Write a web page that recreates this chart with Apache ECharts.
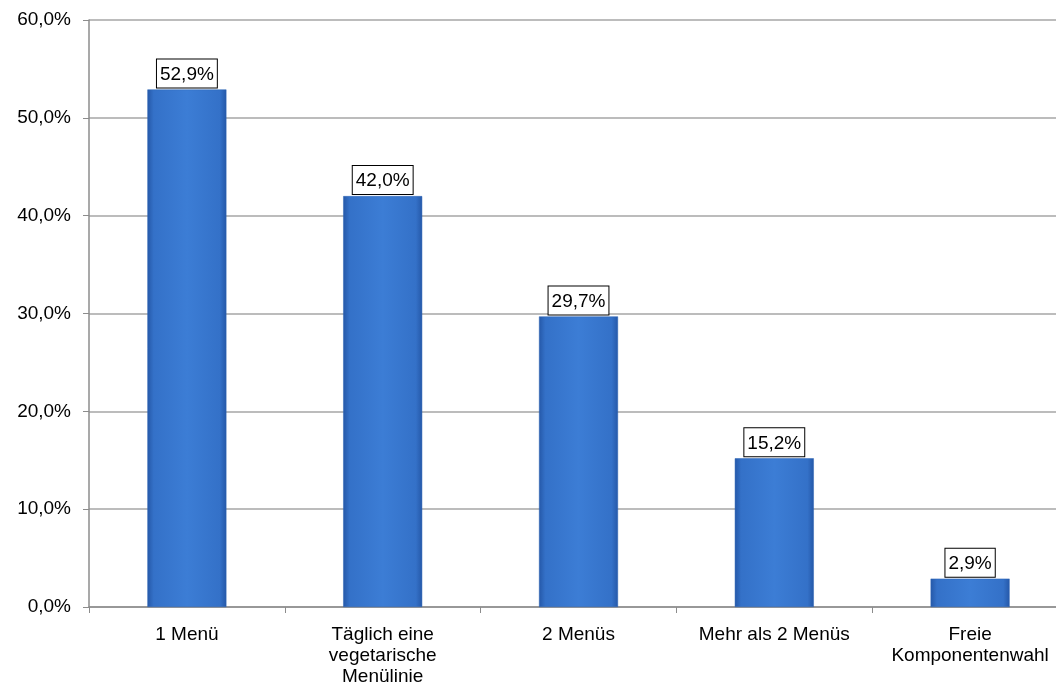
<!DOCTYPE html>
<html>
<head>
<meta charset="utf-8">
<script src="https://cdn.jsdelivr.net/npm/echarts@6/dist/echarts.min.js"></script>
<style>
html,body{margin:0;padding:0;background:#fff;overflow:hidden;}
#c{width:1056px;height:688px;}
</style>
</head>
<body>
<div id="c"></div>
<script>
const categories = ["1 Menü", "Täglich eine\nvegetarische\nMenülinie", "2 Menüs", "Mehr als 2 Menüs", "Freie\nKomponentenwahl"];
const values = [52.9, 42.0, 29.7, 15.2, 2.9];
const yTicks = [0, 10, 20, 30, 40, 50, 60];

const fmt = v => v.toFixed(1).replace('.', ',') + '%';
const FONT = 'Liberation Sans, Arial, sans-serif';

const chart = echarts.init(document.getElementById('c'), null, {renderer: 'canvas'});
chart.setOption({
  animation: false,
  backgroundColor: '#ffffff',
  textStyle: {fontFamily: FONT},
  grid: {left: 89, top: 20, height: 587, width: 979, containLabel: false, outerBoundsMode: 'none'},
  xAxis: {
    type: 'category',
    data: categories,
    axisLine: {lineStyle: {color: '#8c8c8c', width: 1.5}},
    axisTick: {show: true, alignWithLabel: false, length: 6, lineStyle: {color: '#8c8c8c'}},
    axisLabel: {color: '#000', fontSize: 19, lineHeight: 21, margin: 17, interval: 0, fontFamily: FONT},
    splitLine: {show: false}
  },
  yAxis: {
    type: 'value',
    min: yTicks[0],
    max: yTicks[yTicks.length - 1],
    interval: 10,
    axisLine: {show: true, lineStyle: {color: '#8c8c8c', width: 1.5}},
    axisTick: {show: true, length: 6, lineStyle: {color: '#8c8c8c'}},
    axisLabel: {color: '#000', fontSize: 19, margin: 18, formatter: v => fmt(v), fontFamily: FONT},
    splitLine: {show: true, lineStyle: {color: '#a6a6a6', width: 1.5}}
  },
  series: [{
    type: 'bar',
    data: values,
    barWidth: 79,
    itemStyle: {
      color: new echarts.graphic.LinearGradient(0, 0, 1, 0, [
        {offset: 0, color: '#2558a8'},
        {offset: 0.08, color: '#3471c8'},
        {offset: 0.5, color: '#3c7dd5'},
        {offset: 0.92, color: '#3471c8'},
        {offset: 1, color: '#2558a8'}
      ]),
      borderColor: '#2b62b4',
      borderWidth: 0.5
    },
    label: {
      show: true,
      position: 'top',
      distance: 2,
      formatter: p => fmt(p.value),
      color: '#000',
      fontSize: 19,
      lineHeight: 20,
      fontFamily: FONT,
      backgroundColor: '#fff',
      borderColor: '#000',
      borderWidth: 1,
      padding: [5, 3, 3, 3]
    }
  }]
});
</script>
</body>
</html>
